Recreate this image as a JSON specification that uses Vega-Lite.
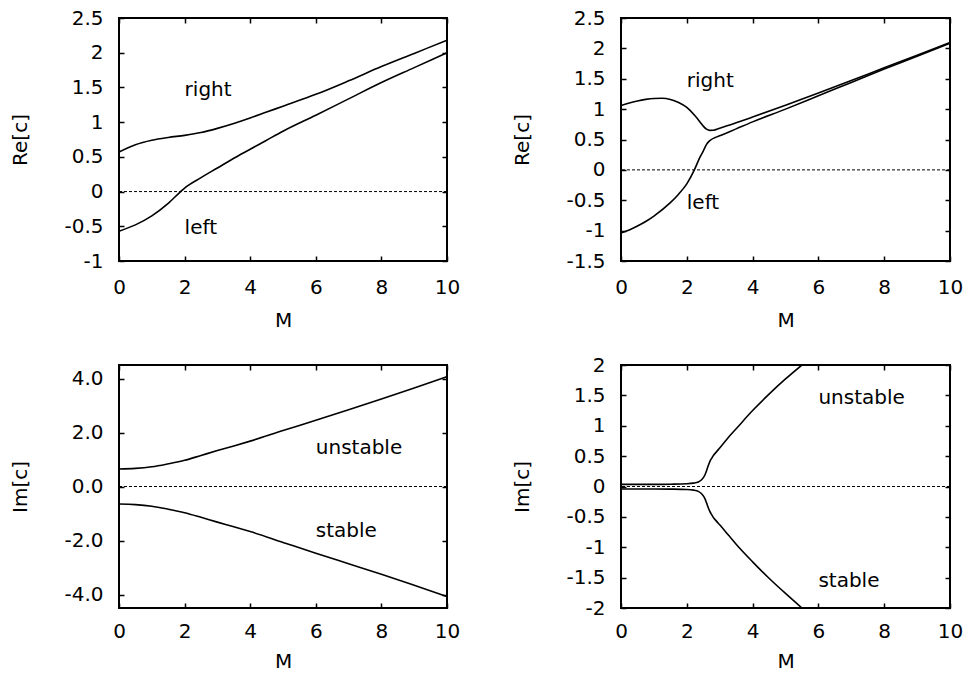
{
  "$schema": "https://vega.github.io/schema/vega-lite/v6.json",
  "background": "white",
  "padding": {"left": 9, "top": 7, "right": 5, "bottom": 5},
  "datasets": {
    "re_a": [
      {"M": 0, "v": 0.57, "branch": "right"},
      {"M": 0.5, "v": 0.675, "branch": "right"},
      {"M": 1, "v": 0.74, "branch": "right"},
      {"M": 1.5, "v": 0.78, "branch": "right"},
      {"M": 2, "v": 0.81, "branch": "right"},
      {"M": 2.5, "v": 0.85, "branch": "right"},
      {"M": 3, "v": 0.91, "branch": "right"},
      {"M": 3.5, "v": 0.98, "branch": "right"},
      {"M": 4, "v": 1.06, "branch": "right"},
      {"M": 4.5, "v": 1.145, "branch": "right"},
      {"M": 5, "v": 1.23, "branch": "right"},
      {"M": 6, "v": 1.4, "branch": "right"},
      {"M": 7, "v": 1.595, "branch": "right"},
      {"M": 8, "v": 1.8, "branch": "right"},
      {"M": 9, "v": 1.99, "branch": "right"},
      {"M": 10, "v": 2.18, "branch": "right"},
      {"M": 0, "v": -0.57, "branch": "left"},
      {"M": 0.5, "v": -0.48, "branch": "left"},
      {"M": 1, "v": -0.35, "branch": "left"},
      {"M": 1.5, "v": -0.17, "branch": "left"},
      {"M": 1.88, "v": 0, "branch": "left"},
      {"M": 2, "v": 0.05, "branch": "left"},
      {"M": 2.5, "v": 0.2, "branch": "left"},
      {"M": 3, "v": 0.34, "branch": "left"},
      {"M": 3.5, "v": 0.48, "branch": "left"},
      {"M": 4, "v": 0.61, "branch": "left"},
      {"M": 4.5, "v": 0.74, "branch": "left"},
      {"M": 5, "v": 0.87, "branch": "left"},
      {"M": 6, "v": 1.1, "branch": "left"},
      {"M": 7, "v": 1.335, "branch": "left"},
      {"M": 8, "v": 1.57, "branch": "left"},
      {"M": 9, "v": 1.785, "branch": "left"},
      {"M": 10, "v": 2.0, "branch": "left"}
    ],
    "re_b": [
      {"M": 0, "v": 1.06, "branch": "right"},
      {"M": 0.25, "v": 1.1, "branch": "right"},
      {"M": 0.5, "v": 1.135, "branch": "right"},
      {"M": 0.75, "v": 1.16, "branch": "right"},
      {"M": 1, "v": 1.175, "branch": "right"},
      {"M": 1.25, "v": 1.178, "branch": "right"},
      {"M": 1.5, "v": 1.16, "branch": "right"},
      {"M": 1.75, "v": 1.11, "branch": "right"},
      {"M": 2, "v": 1.03, "branch": "right"},
      {"M": 2.25, "v": 0.89, "branch": "right"},
      {"M": 2.4, "v": 0.79, "branch": "right"},
      {"M": 2.5, "v": 0.72, "branch": "right"},
      {"M": 2.6, "v": 0.67, "branch": "right"},
      {"M": 2.7, "v": 0.65, "branch": "right"},
      {"M": 2.8, "v": 0.652, "branch": "right"},
      {"M": 3, "v": 0.685, "branch": "right"},
      {"M": 3.5, "v": 0.775, "branch": "right"},
      {"M": 4, "v": 0.87, "branch": "right"},
      {"M": 5, "v": 1.065, "branch": "right"},
      {"M": 6, "v": 1.265, "branch": "right"},
      {"M": 7, "v": 1.47, "branch": "right"},
      {"M": 8, "v": 1.68, "branch": "right"},
      {"M": 9, "v": 1.885, "branch": "right"},
      {"M": 10, "v": 2.095, "branch": "right"},
      {"M": 0, "v": -1.04, "branch": "left"},
      {"M": 0.25, "v": -0.99, "branch": "left"},
      {"M": 0.5, "v": -0.925, "branch": "left"},
      {"M": 0.75, "v": -0.85, "branch": "left"},
      {"M": 1, "v": -0.76, "branch": "left"},
      {"M": 1.5, "v": -0.54, "branch": "left"},
      {"M": 1.75, "v": -0.4, "branch": "left"},
      {"M": 2, "v": -0.23, "branch": "left"},
      {"M": 2.23, "v": 0, "branch": "left"},
      {"M": 2.4, "v": 0.21, "branch": "left"},
      {"M": 2.5, "v": 0.31, "branch": "left"},
      {"M": 2.6, "v": 0.42, "branch": "left"},
      {"M": 2.7, "v": 0.48, "branch": "left"},
      {"M": 2.85, "v": 0.53, "branch": "left"},
      {"M": 3, "v": 0.56, "branch": "left"},
      {"M": 3.5, "v": 0.675, "branch": "left"},
      {"M": 4, "v": 0.79, "branch": "left"},
      {"M": 5, "v": 1.0, "branch": "left"},
      {"M": 6, "v": 1.22, "branch": "left"},
      {"M": 7, "v": 1.44, "branch": "left"},
      {"M": 8, "v": 1.66, "branch": "left"},
      {"M": 9, "v": 1.87, "branch": "left"},
      {"M": 10, "v": 2.085, "branch": "left"}
    ],
    "im_a": [
      {"M": 0, "v": 0.65, "branch": "unstable"},
      {"M": 0.5, "v": 0.67, "branch": "unstable"},
      {"M": 1, "v": 0.73, "branch": "unstable"},
      {"M": 1.5, "v": 0.84, "branch": "unstable"},
      {"M": 2, "v": 0.97, "branch": "unstable"},
      {"M": 2.5, "v": 1.15, "branch": "unstable"},
      {"M": 3, "v": 1.33, "branch": "unstable"},
      {"M": 3.5, "v": 1.5, "branch": "unstable"},
      {"M": 4, "v": 1.68, "branch": "unstable"},
      {"M": 5, "v": 2.07, "branch": "unstable"},
      {"M": 6, "v": 2.45, "branch": "unstable"},
      {"M": 7, "v": 2.84, "branch": "unstable"},
      {"M": 8, "v": 3.24, "branch": "unstable"},
      {"M": 9, "v": 3.65, "branch": "unstable"},
      {"M": 10, "v": 4.07, "branch": "unstable"},
      {"M": 0, "v": -0.65, "branch": "stable"},
      {"M": 0.5, "v": -0.67, "branch": "stable"},
      {"M": 1, "v": -0.73, "branch": "stable"},
      {"M": 1.5, "v": -0.84, "branch": "stable"},
      {"M": 2, "v": -0.97, "branch": "stable"},
      {"M": 2.5, "v": -1.14, "branch": "stable"},
      {"M": 3, "v": -1.32, "branch": "stable"},
      {"M": 3.5, "v": -1.49, "branch": "stable"},
      {"M": 4, "v": -1.67, "branch": "stable"},
      {"M": 5, "v": -2.07, "branch": "stable"},
      {"M": 6, "v": -2.47, "branch": "stable"},
      {"M": 7, "v": -2.86, "branch": "stable"},
      {"M": 8, "v": -3.25, "branch": "stable"},
      {"M": 9, "v": -3.66, "branch": "stable"},
      {"M": 10, "v": -4.08, "branch": "stable"}
    ],
    "im_b": [
      {"M": 0, "v": 0.035, "branch": "unstable"},
      {"M": 1, "v": 0.035, "branch": "unstable"},
      {"M": 1.5, "v": 0.038, "branch": "unstable"},
      {"M": 2, "v": 0.045, "branch": "unstable"},
      {"M": 2.2, "v": 0.055, "branch": "unstable"},
      {"M": 2.35, "v": 0.075, "branch": "unstable"},
      {"M": 2.45, "v": 0.11, "branch": "unstable"},
      {"M": 2.55, "v": 0.19, "branch": "unstable"},
      {"M": 2.6, "v": 0.26, "branch": "unstable"},
      {"M": 2.65, "v": 0.34, "branch": "unstable"},
      {"M": 2.7, "v": 0.41, "branch": "unstable"},
      {"M": 2.75, "v": 0.46, "branch": "unstable"},
      {"M": 2.8, "v": 0.505, "branch": "unstable"},
      {"M": 2.9, "v": 0.57, "branch": "unstable"},
      {"M": 3, "v": 0.635, "branch": "unstable"},
      {"M": 3.25, "v": 0.8, "branch": "unstable"},
      {"M": 3.5, "v": 0.95, "branch": "unstable"},
      {"M": 4, "v": 1.25, "branch": "unstable"},
      {"M": 4.5, "v": 1.52, "branch": "unstable"},
      {"M": 5, "v": 1.77, "branch": "unstable"},
      {"M": 5.5, "v": 2.0, "branch": "unstable"},
      {"M": 0, "v": -0.04, "branch": "stable"},
      {"M": 1, "v": -0.04, "branch": "stable"},
      {"M": 1.5, "v": -0.043, "branch": "stable"},
      {"M": 2, "v": -0.05, "branch": "stable"},
      {"M": 2.2, "v": -0.06, "branch": "stable"},
      {"M": 2.35, "v": -0.08, "branch": "stable"},
      {"M": 2.45, "v": -0.12, "branch": "stable"},
      {"M": 2.55, "v": -0.2, "branch": "stable"},
      {"M": 2.6, "v": -0.27, "branch": "stable"},
      {"M": 2.65, "v": -0.345, "branch": "stable"},
      {"M": 2.7, "v": -0.41, "branch": "stable"},
      {"M": 2.75, "v": -0.46, "branch": "stable"},
      {"M": 2.8, "v": -0.505, "branch": "stable"},
      {"M": 2.9, "v": -0.57, "branch": "stable"},
      {"M": 3, "v": -0.63, "branch": "stable"},
      {"M": 3.25, "v": -0.79, "branch": "stable"},
      {"M": 3.5, "v": -0.95, "branch": "stable"},
      {"M": 4, "v": -1.24, "branch": "stable"},
      {"M": 4.5, "v": -1.51, "branch": "stable"},
      {"M": 5, "v": -1.76, "branch": "stable"},
      {"M": 5.5, "v": -2.0, "branch": "stable"}
    ]
  },
  "concat": [
    {
      "width": 328,
      "height": 243,
      "layer": [
        {
          "data": {"values": [{}]},
          "mark": {"type": "rule", "color": "black", "strokeWidth": 1, "strokeDash": [3, 2]},
          "encoding": {"y": {"datum": 0, "type": "quantitative", "axis": null}}
        },
        {
          "data": {"name": "re_a"},
          "mark": {"type": "line", "color": "black", "strokeWidth": 1.6, "interpolate": "monotone"},
          "encoding": {
            "x": {"field": "M", "type": "quantitative", "scale": {"domain": [0, 10], "nice": false, "zero": false},
                  "axis": {"orient": "bottom", "values": [0, 2, 4, 6, 8, 10], "title": "M", "labelPadding": 21, "titlePadding": 13}},
            "y": {"field": "v", "type": "quantitative", "scale": {"domain": [-1, 2.5], "nice": false, "zero": false},
                  "axis": {"orient": "left", "values": [-1, -0.5, 0, 0.5, 1, 1.5, 2, 2.5], "title": "Re[c]",
                           "labelExpr": "replace(format(datum.value, '~g'), '\u2212', '-')"}},
            "detail": {"field": "branch"},
            "order": {"field": "M", "type": "quantitative"}
          }
        },
        {
          "data": {"values": [{"M": 2, "v": 1.38, "label": "right"}, {"M": 2, "v": -0.615, "label": "left"}]},
          "mark": {"type": "text", "align": "left", "baseline": "alphabetic", "font": "DejaVu Sans", "fontSize": 20, "color": "black"},
          "encoding": {
            "x": {"field": "M", "type": "quantitative", "axis": {"orient": "top", "values": [0, 2, 4, 6, 8, 10], "labels": false, "title": null}},
            "y": {"field": "v", "type": "quantitative", "axis": {"orient": "right", "values": [-1, -0.5, 0, 0.5, 1, 1.5, 2, 2.5], "labels": false, "title": null}},
            "text": {"field": "label"}
          }
        }
      ],
      "resolve": {"axis": {"x": "independent", "y": "independent"}}
    },
    {
      "width": 329,
      "height": 243,
      "layer": [
        {
          "data": {"values": [{}]},
          "mark": {"type": "rule", "color": "black", "strokeWidth": 1, "strokeDash": [3, 2]},
          "encoding": {"y": {"datum": 0, "type": "quantitative", "axis": null}}
        },
        {
          "data": {"name": "re_b"},
          "mark": {"type": "line", "color": "black", "strokeWidth": 1.6, "interpolate": "monotone"},
          "encoding": {
            "x": {"field": "M", "type": "quantitative", "scale": {"domain": [0, 10], "nice": false, "zero": false},
                  "axis": {"orient": "bottom", "values": [0, 2, 4, 6, 8, 10], "title": "M", "labelPadding": 21, "titlePadding": 13}},
            "y": {"field": "v", "type": "quantitative", "scale": {"domain": [-1.5, 2.5], "nice": false, "zero": false},
                  "axis": {"orient": "left", "values": [-1.5, -1, -0.5, 0, 0.5, 1, 1.5, 2, 2.5], "title": "Re[c]",
                           "labelExpr": "replace(format(datum.value, '~g'), '\u2212', '-')"}},
            "detail": {"field": "branch"},
            "order": {"field": "M", "type": "quantitative"}
          }
        },
        {
          "data": {"values": [{"M": 2, "v": 1.364, "label": "right"}, {"M": 2, "v": -0.649, "label": "left"}]},
          "mark": {"type": "text", "align": "left", "baseline": "alphabetic", "font": "DejaVu Sans", "fontSize": 20, "color": "black"},
          "encoding": {
            "x": {"field": "M", "type": "quantitative", "axis": {"orient": "top", "values": [0, 2, 4, 6, 8, 10], "labels": false, "title": null}},
            "y": {"field": "v", "type": "quantitative", "axis": {"orient": "right", "values": [-1.5, -1, -0.5, 0, 0.5, 1, 1.5, 2, 2.5], "labels": false, "title": null}},
            "text": {"field": "label"}
          }
        }
      ],
      "resolve": {"axis": {"x": "independent", "y": "independent"}}
    },
    {
      "width": 328,
      "height": 243,
      "layer": [
        {
          "data": {"values": [{}]},
          "mark": {"type": "rule", "color": "black", "strokeWidth": 1, "strokeDash": [3, 2]},
          "encoding": {"y": {"datum": 0, "type": "quantitative", "axis": null}}
        },
        {
          "data": {"name": "im_a"},
          "mark": {"type": "line", "color": "black", "strokeWidth": 1.6, "interpolate": "monotone"},
          "encoding": {
            "x": {"field": "M", "type": "quantitative", "scale": {"domain": [0, 10], "nice": false, "zero": false},
                  "axis": {"orient": "bottom", "values": [0, 2, 4, 6, 8, 10], "title": "M", "labelPadding": 18, "titlePadding": 10}},
            "y": {"field": "v", "type": "quantitative", "scale": {"domain": [-4.5, 4.5], "nice": false, "zero": false},
                  "axis": {"orient": "left", "values": [-4, -2, 0, 2, 4], "title": "Im[c]",
                           "labelExpr": "replace(format(datum.value, '.1f'), '\u2212', '-')"}},
            "detail": {"field": "branch"},
            "order": {"field": "M", "type": "quantitative"}
          }
        },
        {
          "data": {"values": [{"M": 6, "v": 1.215, "label": "unstable"}, {"M": 6, "v": -1.87, "label": "stable"}]},
          "mark": {"type": "text", "align": "left", "baseline": "alphabetic", "font": "DejaVu Sans", "fontSize": 20, "color": "black"},
          "encoding": {
            "x": {"field": "M", "type": "quantitative", "axis": {"orient": "top", "values": [0, 2, 4, 6, 8, 10], "labels": false, "title": null}},
            "y": {"field": "v", "type": "quantitative", "axis": {"orient": "right", "values": [-4, -2, 0, 2, 4], "labels": false, "title": null}},
            "text": {"field": "label"}
          }
        }
      ],
      "resolve": {"axis": {"x": "independent", "y": "independent"}}
    },
    {
      "width": 329,
      "height": 243,
      "layer": [
        {
          "data": {"values": [{}]},
          "mark": {"type": "rule", "color": "black", "strokeWidth": 1, "strokeDash": [3, 2]},
          "encoding": {"y": {"datum": 0, "type": "quantitative", "axis": null}}
        },
        {
          "data": {"name": "im_b"},
          "mark": {"type": "line", "color": "black", "strokeWidth": 1.6, "interpolate": "monotone", "clip": true},
          "encoding": {
            "x": {"field": "M", "type": "quantitative", "scale": {"domain": [0, 10], "nice": false, "zero": false},
                  "axis": {"orient": "bottom", "values": [0, 2, 4, 6, 8, 10], "title": "M", "labelPadding": 18, "titlePadding": 10}},
            "y": {"field": "v", "type": "quantitative", "scale": {"domain": [-2, 2], "nice": false, "zero": false},
                  "axis": {"orient": "left", "values": [-2, -1.5, -1, -0.5, 0, 0.5, 1, 1.5, 2], "title": "Im[c]",
                           "labelExpr": "replace(format(datum.value, '~g'), '\u2212', '-')"}},
            "detail": {"field": "branch"},
            "order": {"field": "M", "type": "quantitative"}
          }
        },
        {
          "data": {"values": [{"M": 6, "v": 1.353, "label": "unstable"}, {"M": 6, "v": -1.654, "label": "stable"}]},
          "mark": {"type": "text", "align": "left", "baseline": "alphabetic", "font": "DejaVu Sans", "fontSize": 20, "color": "black"},
          "encoding": {
            "x": {"field": "M", "type": "quantitative", "axis": {"orient": "top", "values": [0, 2, 4, 6, 8, 10], "labels": false, "title": null}},
            "y": {"field": "v", "type": "quantitative", "axis": {"orient": "right", "values": [-2, -1.5, -1, -0.5, 0, 0.5, 1, 1.5, 2], "labels": false, "title": null}},
            "text": {"field": "label"}
          }
        }
      ],
      "resolve": {"axis": {"x": "independent", "y": "independent"}}
    }
  ],
  "columns": 2,
  "spacing": {"row": 104, "column": 174},
  "bounds": "flush",
  "config": {
    "view": {"stroke": "black", "strokeWidth": 2, "fill": "white"},
    "axis": {
      "domain": false,
      "grid": false,
      "ticks": true,
      "tickSize": -5,
      "tickWidth": 1.5,
      "tickColor": "black",
      "labelFont": "DejaVu Sans",
      "labelFontSize": 20,
      "labelColor": "black",
      "labelFlush": false,
      "labelOverlap": false,
      "titleFont": "DejaVu Sans",
      "titleFontSize": 20,
      "titleFontWeight": "normal",
      "titleColor": "black"
    },
    "axisY": {"labelPadding": 21, "titlePadding": 33}
  }
}
